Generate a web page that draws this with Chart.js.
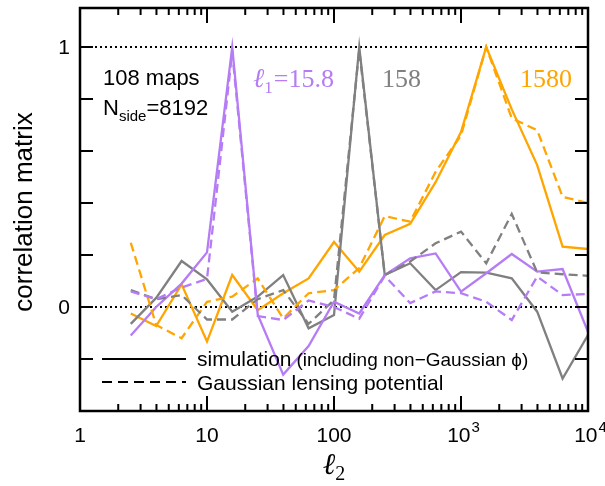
<!DOCTYPE html>
<html>
<head>
<meta charset="utf-8">
<script src="https://cdn.jsdelivr.net/npm/chart.js@4"></script>
<style>
  body { margin: 0; background: #fff; }
  canvas { display: block; }
</style>
</head>
<body>
<canvas id="chart" width="605" height="486"></canvas>
<script>
// ell_2 bins (log spaced)
const ell2 = [2.51, 3.98, 6.31, 10, 15.8, 25.1, 39.8, 63.1, 100, 158, 251, 398, 631, 1000, 1580, 2510, 3980, 6310, 10000];

// ell_1 = 15.8
const purpleSim = [-0.11, 0.0, 0.09, 0.21, 1.0, -0.03, -0.26, -0.15, 0.02, -0.025, 0.123, 0.187, 0.206, 0.059, 0.13, 0.204, 0.136, 0.146, -0.095];
const purpleGauss = [0.06, 0.03, 0.075, 0.108, 0.98, -0.035, -0.05, 0.025, 0.0, -0.045, 0.12, 0.015, 0.06, 0.053, 0.02, -0.05, 0.117, 0.046, 0.05];
// ell_1 = 158
const graySim = [-0.065, 0.035, 0.177, 0.106, -0.018, 0.04, 0.123, -0.082, -0.031, 1.0, 0.123, 0.168, 0.065, 0.134, 0.132, 0.11, -0.018, -0.275, -0.108];
const grayGauss = [0.065, 0.03, 0.046, -0.048, -0.048, 0.03, 0.065, -0.065, 0.027, 0.99, 0.123, 0.175, 0.245, 0.29, 0.168, 0.358, 0.133, 0.126, 0.12];
// ell_1 = 1580
const orangeSim = [-0.025, -0.073, 0.087, -0.133, 0.123, -0.012, 0.053, 0.11, 0.25, 0.136, 0.277, 0.32, 0.48, 0.673, 1.0, 0.76, 0.546, 0.232, 0.223];
const orangeGauss = [0.247, -0.069, -0.12, 0.02, 0.04, 0.11, -0.044, 0.053, 0.065, 0.15, 0.35, 0.328, 0.52, 0.66, 1.0, 0.726, 0.68, 0.424, 0.40];

const xMajor = [1, 10, 100, 1000, 10000];
const yTicks = [-0.2, 0, 0.2, 0.4, 0.6, 0.8, 1.0];

const PURPLE = '#b57cf5';
const GRAY = '#808080';
const ORANGE = '#ffa500';

function pts(vals) {
  return vals.map((v, i) => ({ x: ell2[i], y: v }));
}

function line(vals, color, dashed) {
  return {
    data: pts(vals),
    borderColor: color,
    borderWidth: 2.3,
    borderDash: dashed ? [9, 5] : [],
    pointRadius: 0,
    tension: 0,
    fill: false
  };
}

// frame, ticks, labels, annotations
const decor = {
  id: 'decor',
  beforeDatasetsDraw(chart) {
    const ctx = chart.ctx, a = chart.chartArea, ys = chart.scales.y;
    ctx.save();
    ctx.strokeStyle = '#000';
    ctx.lineWidth = 2;
    ctx.setLineDash([2, 3]);
    [0, 1].forEach(v => {
      const y = Math.round(ys.getPixelForValue(v));
      ctx.beginPath();
      ctx.moveTo(a.left, y);
      ctx.lineTo(a.right, y);
      ctx.stroke();
    });
    ctx.restore();
  },
  afterDraw(chart) {
    const ctx = chart.ctx, a = chart.chartArea;
    const xs = chart.scales.x, ys = chart.scales.y;
    ctx.save();
    ctx.strokeStyle = '#000';
    ctx.fillStyle = '#000';
    ctx.lineWidth = 2.5;
    ctx.strokeRect(a.left, a.top, a.right - a.left, a.bottom - a.top);

    // x ticks
    ctx.lineWidth = 2;
    for (let d = 1; d < 10000; d *= 10) {
      for (let m = 1; m < 10; m++) {
        const x = xs.getPixelForValue(d * m);
        const len = m === 1 ? 15 : 7;
        ctx.beginPath();
        ctx.moveTo(x, a.bottom); ctx.lineTo(x, a.bottom - len);
        ctx.moveTo(x, a.top); ctx.lineTo(x, a.top + len);
        ctx.stroke();
      }
    }
    // y ticks
    yTicks.forEach(v => {
      const y = ys.getPixelForValue(v);
      ctx.beginPath();
      ctx.moveTo(a.left, y); ctx.lineTo(a.left + 13, y);
      ctx.moveTo(a.right, y); ctx.lineTo(a.right - 13, y);
      ctx.stroke();
    });

    // x tick labels
    ctx.font = '21px "Liberation Sans", Arial, sans-serif';
    ctx.textBaseline = 'alphabetic';
    xMajor.forEach(v => {
      const x = xs.getPixelForValue(v);
      const ex = Math.round(Math.log10(v));
      if (ex < 3) {
        ctx.textAlign = 'center';
        ctx.fillText(String(v), x, 442);
      } else {
        ctx.font = '21px "Liberation Sans", Arial, sans-serif';
        const w1 = ctx.measureText('10').width;
        ctx.font = '15px "Liberation Sans", Arial, sans-serif';
        const w2 = ctx.measureText(String(ex)).width;
        const x0 = x - (w1 + w2) / 2 + 2;
        ctx.textAlign = 'left';
        ctx.font = '21px "Liberation Sans", Arial, sans-serif';
        ctx.fillText('10', x0, 442);
        ctx.font = '15px "Liberation Sans", Arial, sans-serif';
        ctx.fillText(String(ex), x0 + w1 + 1, 432);
        ctx.font = '21px "Liberation Sans", Arial, sans-serif';
      }
    });

    // y tick labels
    ctx.textAlign = 'right';
    ctx.textBaseline = 'middle';
    ['0', '1'].forEach(t => {
      ctx.fillText(t, 70, ys.getPixelForValue(Number(t)) + 1);
    });

    // axis titles
    ctx.save();
    ctx.translate(32, 212);
    ctx.rotate(-Math.PI / 2);
    ctx.textAlign = 'center';
    ctx.textBaseline = 'alphabetic';
    ctx.font = '26px "Liberation Sans", Arial, sans-serif';
    ctx.fillText('correlation matrix', 0, 0);
    ctx.restore();

    const serifI = (s) => 'italic ' + s + 'px "Liberation Serif", "DejaVu Serif", serif';
    const serif = (s) => s + 'px "Liberation Serif", "DejaVu Serif", serif';

    ctx.textBaseline = 'alphabetic';
    ctx.textAlign = 'left';
    ctx.font = serifI(30);
    const wl = ctx.measureText('\u2113').width;
    ctx.font = serif(20);
    const w2 = ctx.measureText('2').width;
    let x0 = (a.left + a.right) / 2 - (wl + w2) / 2;
    ctx.font = serifI(30);
    ctx.fillText('\u2113', x0, 474);
    ctx.font = serif(20);
    ctx.fillText('2', x0 + wl, 480);

    // annotation: maps
    ctx.font = '22px "Liberation Sans", Arial, sans-serif';
    ctx.fillText('108 maps', 103, 85);
    ctx.fillText('N', 103, 115);
    let wx = 103 + ctx.measureText('N').width;
    ctx.font = '15px "Liberation Sans", Arial, sans-serif';
    ctx.fillText('side', wx, 121);
    wx += ctx.measureText('side').width;
    ctx.font = '22px "Liberation Sans", Arial, sans-serif';
    ctx.fillText('=8192', wx, 115);

    // annotation: ell_1 values
    ctx.fillStyle = PURPLE;
    ctx.font = serifI(27);
    ctx.fillText('\u2113', 253, 87);
    wx = 253 + ctx.measureText('\u2113').width;
    ctx.font = serif(17);
    ctx.fillText('1', wx, 93);
    wx += ctx.measureText('1').width + 1;
    ctx.font = serif(26);
    ctx.fillText('=15.8', wx, 87);

    ctx.fillStyle = GRAY;
    ctx.font = serif(26);
    ctx.fillText('158', 382, 87);
    ctx.fillStyle = ORANGE;
    ctx.fillText('1580', 520, 87);

    // legend
    ctx.strokeStyle = '#000';
    ctx.fillStyle = '#000';
    ctx.lineWidth = 2;
    ctx.beginPath();
    ctx.moveTo(102, 359); ctx.lineTo(186, 359);
    ctx.stroke();
    ctx.setLineDash([10, 6]);
    ctx.beginPath();
    ctx.moveTo(102, 382); ctx.lineTo(186, 382);
    ctx.stroke();
    ctx.setLineDash([]);

    ctx.font = '21px "Liberation Sans", Arial, sans-serif';
    ctx.fillText('simulation', 197, 366);
    wx = 197 + ctx.measureText('simulation ').width - 1;
    ctx.font = '19px "Liberation Sans", Arial, sans-serif';
    ctx.fillText('(including non\u2212Gaussian \u03d5)', wx, 366);
    ctx.font = '21px "Liberation Sans", Arial, sans-serif';
    ctx.fillText('Gaussian lensing potential', 197, 390);

    ctx.restore();
  }
};

new Chart(document.getElementById('chart'), {
  type: 'line',
  data: {
    datasets: [
      line(purpleGauss, PURPLE, true),
      line(grayGauss, GRAY, true),
      line(orangeGauss, ORANGE, true),
      line(purpleSim, PURPLE, false),
      line(graySim, GRAY, false),
      line(orangeSim, ORANGE, false)
    ]
  },
  options: {
    responsive: false,
    devicePixelRatio: 1,
    animation: false,
    layout: { padding: { left: 80, right: 17, top: 8, bottom: 75 } },
    scales: {
      x: { type: 'logarithmic', min: 1, max: 10000, display: false },
      y: { type: 'linear', min: -0.4, max: 1.15, display: false }
    },
    plugins: {
      legend: { display: false },
      tooltip: { enabled: false }
    }
  },
  plugins: [decor]
});
</script>
</body>
</html>
